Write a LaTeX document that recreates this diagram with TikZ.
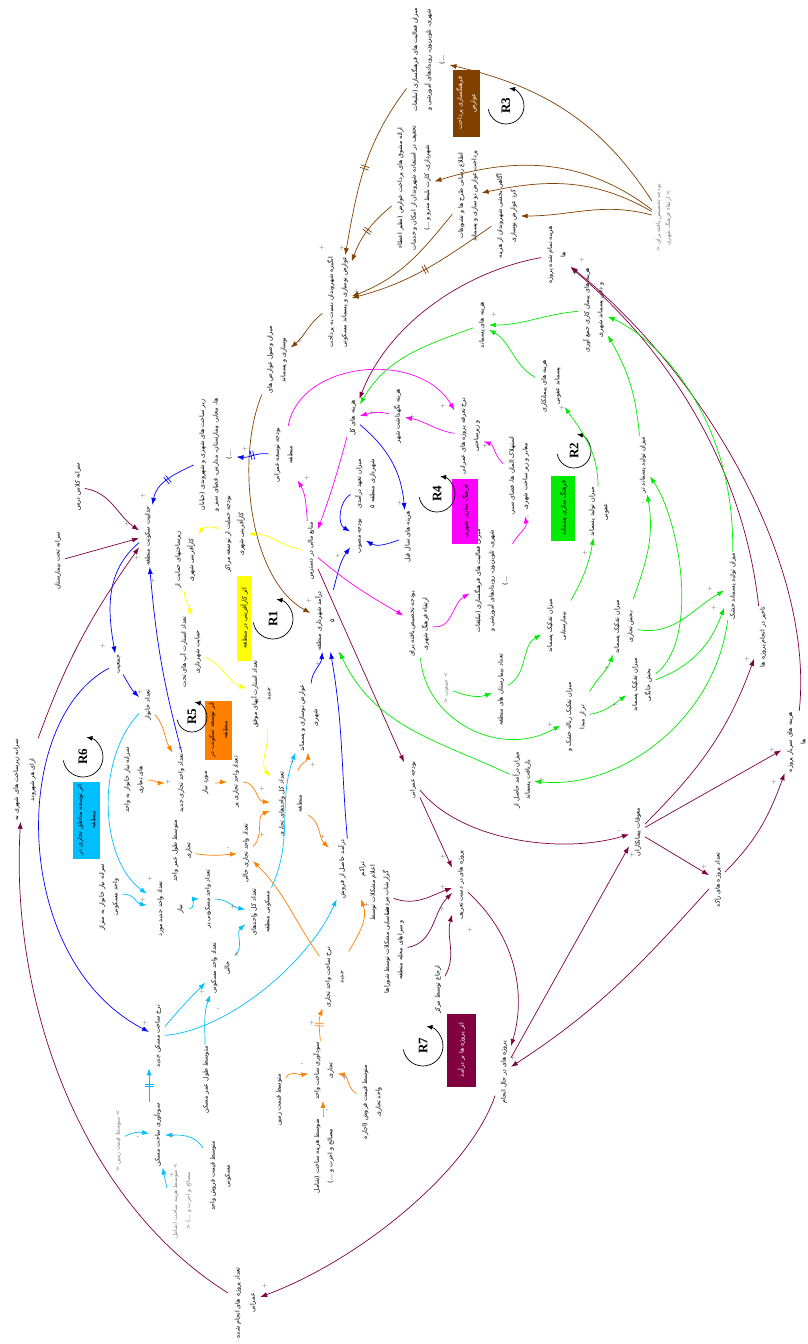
\documentclass[tikz,border=0pt]{standalone}
\usepackage{fontspec}
\usepackage{graphicx}
\usetikzlibrary{arrows.meta,decorations.markings}
\newfontfamily\arabicfont[Script=Arabic]{DejaVu Sans}
\newfontfamily\rfont{Liberation Serif}
\TeXXeTstate=1
\newcommand{\myrl}[1]{\beginR #1\endR}
\newcommand{\mysz}{6.3}
\newcommand{\vl}[2][13.5]{\rotatebox{90}{\fontsize{\mysz}{#1}\selectfont\begin{tabular}{@{}c@{}}#2\end{tabular}}}
\definecolor{cbr}{RGB}{128,64,0}
\definecolor{cmr}{RGB}{128,0,64}
\definecolor{cmg}{RGB}{255,0,255}
\definecolor{cgr}{RGB}{0,235,0}
\definecolor{cbl}{RGB}{0,0,255}
\definecolor{ccy}{RGB}{0,191,255}
\definecolor{cor}{RGB}{255,128,0}
\definecolor{cye}{RGB}{255,255,0}
\definecolor{cgy}{RGB}{128,128,128}
\tikzset{
  lab/.style={inner sep=1pt,font=\arabicfont},
  glab/.style={inner sep=1pt,text=cgy,font=\arabicfont\renewcommand{\mysz}{5.8}},
  bx/.style={inner sep=0pt,font=\arabicfont},
  lk/.style={-{Latex[length=7pt,width=5pt]},line width=0.7pt},
  dly/.style={postaction={decorate,decoration={markings,mark=at position 0.5 with {\draw[-,line width=0.7pt] (-1.3pt,-4.5pt) -- (-1.3pt,4.5pt) (1.3pt,-4.5pt) -- (1.3pt,4.5pt);}}}},
  sgn/.style={inner sep=0pt,font=\fontsize{6}{6}\selectfont,text=black!65},
  rt/.style={inner sep=0pt,font=\rfont\bfseries\fontsize{13}{13}\selectfont},
  lp/.style={-{Latex[length=6pt,width=5pt]},line width=0.7pt}
}
\begin{document}
\begin{tikzpicture}[x=1pt,y=1pt]
\useasboundingbox (0,0) rectangle (807,-1344);
\fill[white] (0,0) rectangle (807,-1344);

% ---------------- R3 (brown) ----------------
\node[lab] (n1) at (428,-60) {\vl{\myrl{میزان فعالیت های فرهنگسازی (تبلیغات}\\\myrl{شهری، تلویزیون، رویدادهای آموزشی و}\\\myrl{...)}}};
\node[bx,fill=cbr,text=white,minimum width=27,minimum height=67] (n2) at (466,-103) {\vl{\myrl{فرهنگسازی پرداخت}\\\myrl{عوارض}}};
\node[rt] (r3) at (506,-106) {\rotatebox{90}{R3}};
\draw[lp] (r3.center) ++(190:18) arc[start angle=190,end angle=440,radius=18];
\node[lab] (n4) at (413,-188) {\vl{\myrl{ارائه مشوق های پرداخت عوارض (نظیر اعطاء}\\\myrl{تخفیف در استفاده شهروندان از امکان و خدمات}\\\myrl{شهرداری، کارت بلیط مترو و ...)}}};
\node[lab] (n5) at (467,-196) {\vl{\myrl{اطلاع رسانی طرح ها و تشویقات}\\\myrl{پرداخت عوارض نو سازی و پسماند}}};
\node[lab] (n6) at (506,-216) {\vl{\myrl{آگاهی بخشی شهروندان از هزینه}\\\myrl{کرد عوارض نوسازی}}};
\node[lab] (n7) at (337,-302) {\vl{\myrl{انگیزه شهروندان نسبت به پرداخت}\\\myrl{عوارض نوسازی و پسماند مسکونی}}};
\node[glab] (n8) at (663,-218) {\vl[10]{\myrl{بودجه تخصیص یافته برای <}\\\myrl{> ارتقاء فرهنگ شهری}}};
\node[lab] (n9) at (276,-360) {\vl{\myrl{میزان وصول عوارض های}\\\myrl{نوسازی و پسماند}}};

% ---------------- R1 / R4 ----------------
\node[lab] (n10) at (325,-621) {\vl{\myrl{درآمد شهرداری منطقه}\\\myrl{۵}}};
\node[lab] (n11) at (310,-551) {\vl{\myrl{منابع مالی در دسترس}}};
\node[lab] (n12) at (283,-455) {\vl{\myrl{بودجه توسعه عمرانی}\\\myrl{منطقه}}};
\node[lab] (n13) at (352,-418) {\vl{\myrl{هزینه های کل}}};
\node[lab] (n14) at (397,-416) {\vl{\myrl{هزینه نگهداشت شهر}}};
\node[lab] (n15) at (469,-436) {\vl{\myrl{نرخ تعرفه پروژه های عمرانی}\\\myrl{و زیرساختی}}};
\node[lab] (n16) at (518,-476) {\vl{\myrl{استهلاک المان ها، فضای سبز،}\\\myrl{معابر و زیر ساخت شهری}}};
\node[lab] (n17) at (365,-484) {\vl{\myrl{میزان تعهد درآمدی}\\\myrl{شهرداری منطقه ۵}}};
\node[lab] (n18) at (358,-536) {\vl{\myrl{بودجه مصوب}}};
\node[lab] (n19) at (407,-537) {\vl{\myrl{هزینه های سال قبل}}};
\node[lab] (n20) at (418,-624) {\vl{\myrl{بودجه تخصیص یافته برای}\\\myrl{ارتقاء فرهنگ شهری}}};
\node[lab] (n21) at (491,-581) {\vl{\myrl{میزان فعالیت های فرهنگسازی (تبلیغات}\\\myrl{شهری، تلویزیون، رویدادهای آموزشی و}\\\myrl{...)}}};
\node[lab] (n79) at (500,-690) {\vl{\myrl{تعداد بیمارستان های منطقه}}};
\node[bx,fill=cmg,minimum width=26,minimum height=65] (n92) at (465,-511) {\vl{\myrl{فرهنگ سازی شهری}}};
\node[rt] (r4) at (437,-494) {\rotatebox{90}{R4}};
\draw[lp] (r4.center) ++(190:18) arc[start angle=190,end angle=440,radius=18];
\node[bx,fill=cye,minimum width=14,minimum height=85] (n33) at (244,-618) {\vl{\myrl{اثر کارآفرینی در منطقه}}};
\node[rt] (r1) at (273,-619) {\rotatebox{90}{R1}};
\draw[lp] (r1.center) ++(190:20) arc[start angle=190,end angle=440,radius=20];

% ---------------- left part ----------------
\node[lab] (n22) at (215,-455) {\vl{\myrl{زیر ساخت های شهری و شهروندی (خیابان}\\\myrl{ها، معابر، بیمارستان، مدارس، فضای سبز و}\\\myrl{...)}}};
\node[lab] (n23) at (147,-536) {\vl{\myrl{جذابیت سکونت منطقه}}};
\node[lab] (n24) at (77,-487) {\vl{\myrl{سرانه کلاس درس}}};
\node[lab] (n25) at (57,-561) {\vl{\myrl{سرانه تخت بیمارستان}}};
\node[lab] (n26) at (23,-780) {\vl[16]{\myrl{سرانه زیرساخت های شهری به}\\\myrl{ازای هر شهروند}}};
\node[lab] (n27) at (117,-664) {\vl{\myrl{جمعیت}}};
\node[lab] (n28) at (147,-705) {\vl{\myrl{تعداد خانوار}}};
\node[lab] (n29) at (234,-534) {\vl{\myrl{بودجه حمایت از توسعه مراکز}\\\myrl{کارآفرینی شهری}}};
\node[lab] (n30) at (184,-560) {\vl{\myrl{زیرساختهای حمایت از}\\\myrl{کارآفرینی شهری}}};
\node[lab] (n31) at (190,-652) {\vl{\myrl{تعداد استارت آپ های تحت}\\\myrl{حمایت شهرداری}}};
\node[lab] (n32) at (261,-694) {\vl{\myrl{تعداد استارت آپهای موفق}\\\myrl{جدید}}};

% R5 (orange)
\node[lab] (n35) at (190,-783) {\vl[24]{\myrl{تعداد واحد تجاری جدید}\\\myrl{مورد نیاز}}};
\node[lab] (n36) at (133,-780) {\vl{\myrl{سرانه نیاز خانوار به واحد}\\\myrl{های تجاری}}};
\node[lab] (n37) at (181,-851) {\vl{\myrl{متوسط طول عمر واحد}\\\myrl{تجاری}}};
\node[lab] (n38) at (235,-782) {\vl{\myrl{تعداد واحد تجاری پر}}};
\node[lab] (n39) at (289,-804) {\vl[18]{\myrl{تعداد کل واحدهای تجاری}\\\myrl{منطقه}}};
\node[lab] (n40) at (245,-853) {\vl{\myrl{تعداد واحد تجاری خالی}}};
\node[bx,fill=cor,minimum width=27,minimum height=59] (n41) at (218,-730) {\vl{\myrl{اثر توسعه سکونت در}\\\myrl{منطقه}}};
\node[rt] (r5) at (192,-717) {\rotatebox{90}{R5}};
\draw[lp] (r5.center) ++(190:15) arc[start angle=190,end angle=440,radius=15];

% R6 (cyan)
\node[bx,fill=ccy,minimum width=26,minimum height=77] (n43) at (86,-820) {\vl{\myrl{اثر توسعه مناطق تجاری در}\\\myrl{منطقه}}};
\node[rt] (r6) at (83,-757) {\rotatebox{90}{R6}};
\draw[lp] (r6.center) ++(190:20) arc[start angle=190,end angle=440,radius=20];
\node[lab] (n45) at (168,-909) {\vl[20]{\myrl{تعداد واحد جدید مورد}\\\myrl{نیاز}}};
\node[lab] (n46) at (108,-897) {\vl{\myrl{سرانه نیاز خانوار به متراژ}\\\myrl{واحد مسکونی}}};
\node[lab] (n47) at (207,-899) {\vl{\myrl{تعداد واحد مسکونی پر}}};
\node[lab] (n48) at (260,-912) {\vl{\myrl{تعداد کل واحدهای}\\\myrl{مسکونی منطقه}}};
\node[lab] (n49) at (220,-968) {\vl{\myrl{تعداد واحد مسکونی}\\\myrl{خالی}}};
\node[lab] (n50) at (157,-1036) {\vl{\myrl{نرخ ساخت مسکن جدید}}};
\node[lab] (n51) at (157,-1135) {\vl{\myrl{سودآوری ساخت مسکن}}};
\node[glab] (n52) at (117,-1141) {\vl{\myrl{> متوسط قیمت زمین <}}};
\node[lab] (n53) at (219,-1176) {\vl[15]{\myrl{متوسط قیمت فروش واحد}\\\myrl{مسکونی}}};
\node[glab] (n54) at (181,-1201) {\vl[13]{\myrl{> متوسط هزینه ساخت (شامل}\\\myrl{مصالح و اجرت و ...) <}}};
\node[lab] (n55) at (205,-1080) {\vl{\myrl{متوسط طول عمر مسکن}}};

% R7 (maroon) and projects
\node[lab] (n56) at (244,-1303) {\vl[15]{\myrl{تعداد پروژه های انجام شده}\\\myrl{عمرانی}}};
\node[lab] (n57) at (503,-1072) {\vl{\myrl{پروژه های در حال انجام}}};
\node[bx,fill=cmr,text=white,minimum width=29,minimum height=73] (n58) at (461,-1050) {\vl{\myrl{اثر پروژه ها بر درآمد}}};
\node[rt] (r7) at (423,-1046) {\rotatebox{90}{R7}};
\draw[lp] (r7.center) ++(190:20) arc[start angle=190,end angle=440,radius=20];
\node[lab] (n60) at (323,-1071) {\vl{\myrl{سودآوری ساخت واحد}\\\myrl{تجاری}}};
\node[lab] (n61) at (278,-1100) {\vl{\myrl{متوسط قیمت زمین}}};
\node[lab] (n62) at (323,-1156) {\vl{\myrl{متوسط هزینه ساخت (شامل}\\\myrl{مصالح و اجرت و ...)}}};
\node[lab] (n63) at (371,-1102) {\vl{\myrl{متوسط قیمت فروش (اجاره}\\\myrl{واحد تجاری}}};
\node[lab] (n64) at (334,-977) {\vl{\myrl{نرخ ساخت واحد تجاری}\\\myrl{جدید}}};
\node[lab] (n65) at (350,-869) {\vl[20]{\myrl{درآمد حاصل از فروش}\\\myrl{تراکم}}};
\node[lab] (n66) at (308,-718) {\vl{\myrl{عوارض نوسازی و پسماند}\\\myrl{شهری}}};
\node[lab] (n67) at (412,-780) {\vl{\myrl{بودجه عمرانی}}};
\node[lab] (n68) at (460,-885) {\vl{\myrl{پروژه های در دست تعریف}}};
\node[lab] (n69) at (379,-893) {\vl{\myrl{اعلام مشکلات توسط}\\\myrl{گزارشات مردمی}}};
\node[lab] (n70) at (393,-950) {\vl{\myrl{شناسایی مشکلات توسط شوراها}\\\myrl{و سراهای محله منطقه}}};
\node[lab] (n71) at (437,-990) {\vl{\myrl{ارجاع توسط مرکز}}};
\node[lab] (n72) at (637,-832) {\vl{\myrl{معوقات پیمانکاران}}};
\node[lab] (n73) at (717,-880) {\vl{\myrl{تعداد پروژه های راکد}}};
\node[lab] (n74) at (796,-742) {\vl{\myrl{هزینه های سربار پروژه}\\\myrl{ها}}};
\node[lab] (n75) at (762,-637) {\vl{\myrl{تاخیر در انجام پروژه ها}}};
\node[lab] (n76) at (556,-255) {\vl{\myrl{هزینه تمام شده پروژه}\\\myrl{ها}}};

% R2 (green)
\node[lab] (n77) at (522,-780) {\vl[11]{\myrl{میزان درآمد حاصل از}\\\myrl{بازیافت پسماند}}};
\node[glab] (n78) at (445,-688) {\vl{\myrl{> جمعیت <}}};
\node[lab] (n80) at (481,-325) {\vl{\myrl{هزینه های پسماند}}};
\node[lab] (n81) at (593,-310) {\vl{\myrl{هزینه های پیمان کاری جمع آوری}\\\myrl{و دفن پسماند شهری}}};
\node[lab] (n82) at (550,-386) {\vl{\myrl{هزینه های پیمانکاری}\\\myrl{پسماند عفونی}}};
\node[lab] (n83) at (598,-512) {\vl{\myrl{میزان تولید پسماند}\\\myrl{عفونی}}};
\node[bx,fill=cgr,minimum width=24,minimum height=65] (n84) at (563,-508) {\vl{\myrl{فرهنگ سازی پسماند}}};
\node[rt] (r2) at (574,-451) {\rotatebox{90}{R2}};
\draw[lp] (r2.center) ++(190:17) arc[start angle=190,end angle=440,radius=17];
\node[lab] (n86) at (642,-465) {\vl{\myrl{میزان تولید پسماند تر}}};
\node[lab] (n87) at (556,-626) {\vl{\myrl{میزان تفکیک پسماند}\\\myrl{بیمارستانی}}};
\node[lab] (n88) at (623,-627) {\vl{\myrl{میزان تفکیک پسماند}\\\myrl{بخش تجاری}}};
\node[lab] (n89) at (732,-586) {\vl{\myrl{میزان تولید پسماند خشک}}};
\node[lab] (n90) at (575,-717) {\vl{\myrl{میزان تفکیک زباله خشک و}\\\myrl{تر از مبدا}}};
\node[lab] (n91) at (641,-685) {\vl{\myrl{میزان تفکیک پسماند}\\\myrl{بخش خانگی}}};

% ---------------- connectors ----------------
% brown
\draw[lk,cbr] (n8) to[out=123,in=-13] (n1);
\draw[lk,cbr] (n8) to[out=143,in=17] (n4);
\draw[lk,cbr] (n8) to[out=150,in=12] (n5);
\draw[lk,cbr] (n8) to[out=165,in=0] (n6);
\draw[lk,cbr,dly] (n1) to[out=233,in=80] (n7);
\draw[lk,cbr,dly] (n4) to[out=220,in=70] (n7);
\draw[lk,cbr] (n5) to[out=231,in=21] (n7);
\draw[lk,cbr,dly] (n6) to[out=215,in=15] (n7);
\draw[lk,cbr] (n7) to[out=218,in=40] (n9);
\draw[lk,cbr] (n9) .. controls (235,-460) and (250,-580) .. (n10);
% blue
\draw[lk,cbl,dly] (n12) to[out=175,in=-5] (n22);
\draw[lk,cbl,dly] (n22) to[out=205,in=80] (n23);
\draw[lk,cbl] (n17) to[out=215,in=150] (n18);
\draw[lk,cbl] (n10) to[out=75,in=235] (n18);
\draw[lk,cbl] (n19) to[out=200,in=-30] (n18);
\draw[lk,cbl] (n13) to[out=-40,in=95] (n19);
\draw[lk,cbl] (n66) to[out=85,in=-95] (n10);
\draw[lk,cbl] (n65) to[out=95,in=-80] (n10);
\draw[lk,cbl] (n23) to[out=220,in=100] (n27);
\draw[lk,cbl] (n27) to[out=-60,in=135] (n28);
\draw[lk,cbl] (n35) to[out=105,in=-85] (n23);
\draw[lk,cbl] (n27) .. controls (10,-720) and (10,-960) .. (n50);
% cyan
\draw[lk,ccy] (n28) .. controls (95,-760) and (100,-860) .. (n45);
\draw[lk,ccy] (n46) to[out=10,in=170] (n45);
\draw[lk,ccy] (n45) to[out=0,in=180] (n47);
\draw[lk,ccy] (n47) to[out=0,in=170] (n48);
\draw[lk,ccy] (n49) to[out=40,in=220] (n48);
\draw[lk,ccy] (n50) to[out=50,in=225] (n49);
\draw[lk,ccy] (n55) to[out=90,in=-110] (n49);
\draw[lk,ccy] (n50) .. controls (230,-1030) and (310,-960) .. (n65);
\draw[lk,ccy] (n48) to[out=65,in=250] (n66);
\draw[lk,ccy,dly] (n51.north west) -- (n50.south west);
\draw[lk,ccy] (n52) to[out=30,in=170] (n51);
\draw[lk,ccy] (n53) to[out=120,in=0] (n51);
\draw[lk,ccy] ([yshift=13pt]n54.west) to[out=100,in=-80] (n51);
% orange
\draw[lk,cor] (n28) to[out=-50,in=120] (n35);
\draw[lk,cor] (n36) to[out=0,in=180] (n35);
\draw[lk,cor] (n35) to[out=0,in=180] (n38);
\draw[lk,cor] (n38) to[out=0,in=175] (n39);
\draw[lk,cor] (n40) to[out=40,in=200] (n39);
\draw[lk,cor] (n37) to[out=-10,in=185] (n40);
\draw[lk,cor] (n64) to[out=125,in=-45] (n40);
\draw[lk,cor] (n39) to[out=75,in=-90] (n66);
\draw[lk,cor] (n39) to[out=-30,in=135] (n65);
\draw[lk,cor] (n64) to[out=60,in=-70] (n65);
\draw[lk,cor,dly] (n60) to[out=95,in=-110] (n64);
\draw[lk,cor] (n61) to[out=70,in=190] (n60);
\draw[lk,cor] (n62) to[out=90,in=-90] (n60);
\draw[lk,cor] (n63) to[out=150,in=-10] (n60);
% yellow
\draw[lk,cye] (n11) to[out=170,in=0] (n29);
\draw[lk,cye] (n29) to[out=160,in=60] (n30);
\draw[lk,cye] (n30) to[out=-90,in=90] (n31);
\draw[lk,cye] (n31) to[out=-20,in=160] (n32);
\draw[lk,cye] (n32) to[out=-80,in=125] (n39);
% magenta
\draw[lk,cmg] (n12) .. controls (300,-360) and (420,-350) .. (n15);
\draw[lk,cmg] (n11) to[out=95,in=-60] (n12);
\draw[lk,cmg] (n13) to[out=-105,in=70] (n11);
\draw[lk,cmg] (n14) to[out=165,in=15] (n13);
\draw[lk,cmg] (n15) to[out=170,in=-10] (n14);
\draw[lk,cmg] (n16) to[out=140,in=-20] (n15);
\draw[lk,cmg] (n21) to[out=60,in=-80] (n16);
\draw[lk,cmg] (n11) to[out=-40,in=150] (n20);
\draw[lk,cmg] (n20) to[out=-10,in=210] (n21);
% maroon
\draw[lk,cmr] (n11) -- (n67);
\draw[lk,cmr] (n67) -- (n68);
\draw[lk,cmr] (n67) .. controls (460,-840) and (560,-855) .. (n72);
\draw[lk,cmr] (n69) to[out=-20,in=200] (n68);
\draw[lk,cmr] (n70) to[out=10,in=225] (n68);
\draw[lk,cmr] (n71) to[out=60,in=255] (n68);
\draw[lk,cmr] (n68) .. controls (520,-940) and (525,-1000) .. (n57);
\draw[lk,cmr] (n57) -- (n72);
\draw[lk,cmr] (n73) to[out=228,in=33] (n57);
\draw[lk,cmr] (n72) to[out=45,in=250] (n75);
\draw[lk,cmr] (n72) -- (n74);
\draw[lk,cmr] (n72) -- (n73);
\draw[lk,cmr] (n73) to[out=45,in=250] (n74);
\draw[lk,cmr] (n74) .. controls (815,-560) and (700,-370) .. (n76);
\draw[lk,cmr] (n75) .. controls (745,-480) and (680,-360) .. (n76);
\draw[lk,cmr] (n76) .. controls (470,-270) and (390,-320) .. (n13);
\draw[lk,cmr] (n57) .. controls (470,-1170) and (360,-1260) .. (n56);
\draw[lk,cmr] (n56) .. controls (80,-1200) and (10,-1000) .. (n26);
\draw[lk,cmr] (n26) to[out=70,in=235] (n23);
\draw[lk,cmr] (n24) to[out=-10,in=145] (n23);
\draw[lk,cmr] (n25) -- (n23);
% green
\draw[lk,cgr] (n81) to[out=185,in=0] (n80);
\draw[lk,cgr] (n82) to[out=150,in=-30] (n80);
\draw[lk,cgr] (n80) to[out=200,in=60] (n13);
\draw[lk,cgr] (n83) to[out=90,in=-55] (n82);
\draw[lk,cgr] (n86) to[out=95,in=-60] (n81);
\draw[lk,cgr] (n89) .. controls (735,-420) and (660,-340) .. (n81);
\draw[lk,cgr] (n87) to[out=60,in=-100] (n83);
\draw[lk,cgr] (n88) to[out=70,in=-80] (n86);
\draw[lk,cgr] (n88) to[out=-10,in=210] (n89);
\draw[lk,cgr] (n91) to[out=20,in=250] (n89);
\draw[lk,cgr] (n91) .. controls (700,-640) and (680,-520) .. (n86);
\draw[lk,cgr] (n90) to[out=60,in=-110] (n88);
\draw[lk,cgr] (n90) to[out=10,in=215] (n91);
\draw[lk,cgr] (n89) .. controls (715,-720) and (620,-790) .. (n77);
\draw[lk,cgr] (n77) to[out=155,in=-65] (n10);
\draw[lk,cgr] (n78) to[out=-20,in=200] (n79);
\draw[lk,cgr] (n79) to[out=30,in=210] (n87);
\draw[lk,cgr] (n20) .. controls (425,-720) and (500,-760) .. (n90);

% ---------------- polarity signs ----------------
\node[sgn] (s1) at (322,-248) {+};
\node[sgn] (s2) at (342,-248) {+};
\node[sgn] (s3) at (357,-292) {+};
\node[sgn] (s4) at (300,-341) {+};
\node[sgn] (s5) at (309,-601) {+};
\node[sgn] (s6) at (245,-449) {+};
\node[sgn] (s7) at (143,-496) {+};
\node[sgn] (s8) at (127,-524) {+};
\node[sgn] (s9) at (137,-558) {+};
\node[sgn] (s10) at (153,-581) {+};
\node[sgn] (s11) at (103,-646) {+};
\node[sgn] (s12) at (140,-692) {+};
\node[sgn] (s13) at (180,-748) {+};
\node[sgn] (s14) at (168,-782) {+};
\node[sgn] (s15) at (262,-789) {+};
\node[sgn] (s16) at (228,-849) {-};
\node[sgn] (s17) at (262,-835) {+};
\node[sgn] (s18) at (150,-879) {+};
\node[sgn] (s19) at (143,-900) {+};
\node[sgn] (s20) at (233,-907) {+};
\node[sgn] (s21) at (237,-954) {+};
\node[sgn] (s22) at (202,-992) {+};
\node[sgn] (s23) at (218,-1010) {-};
\node[sgn] (s24) at (145,-1023) {+};
\node[sgn] (s25) at (138,-1138) {-};
\node[sgn] (s26) at (173,-1136) {+};
\node[sgn] (s27) at (172,-1175) {+};
\node[sgn] (s28) at (265,-1286) {+};
\node[sgn] (s29) at (312,-1023) {+};
\node[sgn] (s30) at (302,-1065) {-};
\node[sgn] (s31) at (327,-1111) {-};
\node[sgn] (s32) at (345,-1078) {+};
\node[sgn] (s33) at (513,-1058) {+};
\node[sgn] (s34) at (293,-762) {+};
\node[sgn] (s35) at (313,-765) {+};
\node[sgn] (s36) at (323,-837) {+};
\node[sgn] (s37) at (367,-905) {+};
\node[sgn] (s38) at (443,-857) {+};
\node[sgn] (s39) at (443,-887) {+};
\node[sgn] (s40) at (442,-909) {+};
\node[sgn] (s41) at (470,-930) {+};
\node[sgn] (s42) at (372,-413) {+};
\node[sgn] (s43) at (412,-417) {+};
\node[sgn] (s44) at (443,-406) {+};
\node[sgn] (s45) at (485,-446) {+};
\node[sgn] (s46) at (307,-478) {+};
\node[sgn] (s47) at (400,-503) {+};
\node[sgn] (s48) at (338,-556) {+};
\node[sgn] (s49) at (375,-546) {-};
\node[sgn] (s50) at (400,-613) {+};
\node[sgn] (s51) at (528,-518) {-};
\node[sgn] (s52) at (478,-621) {+};
\node[sgn] (s53) at (340,-654) {+};
\node[sgn] (s54) at (318,-664) {+};
\node[sgn] (s55) at (562,-408) {+};
\node[sgn] (s56) at (643,-504) {-};
\node[sgn] (s57) at (585,-553) {+};
\node[sgn] (s58) at (710,-589) {+};
\node[sgn] (s59) at (714,-608) {+};
\node[sgn] (s60) at (607,-668) {+};
\node[sgn] (s61) at (550,-725) {+};
\node[sgn] (s62) at (615,-705) {+};
\node[sgn] (s63) at (542,-780) {+};
\node[sgn] (s64) at (619,-832) {-};
\node[sgn] (s65) at (632,-855) {+};
\node[sgn] (s66) at (704,-867) {+};
\node[sgn] (s67) at (772,-750) {+};
\node[sgn] (s68) at (774,-782) {+};
\node[sgn] (s69) at (747,-659) {+};
\node[sgn] (s70) at (582,-260) {+};
\node[sgn] (s71) at (575,-273) {+};
\node[sgn] (s72) at (494,-315) {+};
\end{tikzpicture}
\end{document}
